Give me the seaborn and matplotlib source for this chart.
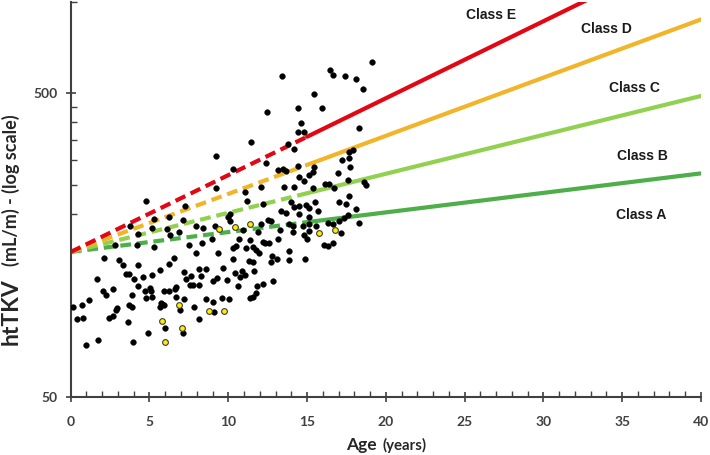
import numpy as np
import pandas as pd
import seaborn as sns
import matplotlib.pyplot as plt
from matplotlib.ticker import FixedLocator, NullFormatter

# patients (age in years, htTKV in mL/m)
age = [4.77, 7.23, 6.24, 5.29, 3.77, 7.13, 6.08, 5.13, 7.93, 8.39, 4.30, 6.28, 6.87,
       2.80, 4.18, 5.29, 7.49, 8.35, 7.93, 2.13, 3.08, 3.29, 4.30, 6.56, 6.24, 5.65,
       1.65, 3.54, 3.67, 4.01, 4.60, 5.19, 7.19, 8.12, 8.61, 7.30, 7.66, 8.29, 4.26,
       2.06, 2.70, 2.23, 3.92, 4.72, 5.02, 5.08, 5.90, 6.24, 6.60, 6.71, 7.59, 7.76,
       8.14, 4.77, 5.13, 6.66, 7.17, 8.61, 0.17, 0.70, 1.14, 2.95, 2.87, 3.71, 3.92,
       5.65, 5.82, 5.76, 5.92, 6.96, 7.80, 0.42, 0.80, 2.40, 2.70, 3.65, 5.97, 8.14,
       0.97, 1.75, 3.96, 4.91, 7.13,
       13.56, 14.20, 14.83, 16.16, 16.37, 16.73, 18.63, 18.73, 11.08, 12.09, 11.20,
       12.19, 13.99, 14.20, 14.47, 14.94, 15.15, 15.53, 17.00, 17.47, 17.68, 18.10,
       13.35, 13.67, 14.47, 15.15, 15.67, 10.08, 9.97, 17.57, 17.36, 17.05, 16.30,
       16.62, 18.31, 15.57, 15.15, 14.72, 14.09, 13.31, 13.88, 12.72, 12.51, 12.09,
       11.87, 10.92, 10.13, 9.13, 8.99, 10.67, 11.39, 12.19, 12.36, 12.57, 13.14,
       14.09, 14.83, 14.97, 15.15, 16.09, 16.30, 16.66, 17.15, 11.56, 10.29, 10.46,
       11.14, 11.77, 11.94, 9.34, 13.84, 12.78, 13.08, 13.88, 14.89, 10.29, 11.30,
       11.60, 12.72, 9.66, 10.42, 10.89, 10.72, 11.09, 11.62, 9.28, 9.94, 9.03,
       10.61, 11.81, 12.19, 12.82, 9.59, 10.04, 11.35, 11.56, 11.73, 9.03, 9.07,
       19.11, 16.47, 16.62, 17.42, 18.10, 18.52, 13.39, 15.46, 14.45, 15.95, 12.47,
       14.62, 14.41, 14.79, 18.27, 11.46, 13.77, 14.15, 9.24, 12.41, 10.29, 13.18,
       13.46, 13.67, 14.41, 15.46, 17.63, 17.93, 17.63, 17.19, 17.74, 15.35, 15.15,
       14.51, 16.94, 17.57, 9.24, 15.35]
httkv = [221, 213, 195, 192, 183, 191, 179, 180, 183, 180, 172, 171, 174,
         158, 158, 156, 158, 161, 149, 143, 141, 136, 136, 143, 137, 131,
         122, 127, 127, 122, 124, 126, 129, 132, 132, 122, 125, 125, 116,
         112, 113, 108, 108, 112, 114, 112, 112, 112, 113, 115, 117, 117,
         117, 106, 107, 107, 105, 105, 99, 100, 104, 98, 97, 100, 99,
         99, 101, 102, 100, 97, 99, 90, 91, 91, 92, 88, 84, 90,
         74, 77, 76, 81, 81,
         246, 246, 257, 251, 251, 243, 254, 249, 237, 246, 221,
         215, 219, 211, 212, 214, 210, 219, 219, 215, 230, 207,
         204, 201, 200, 196, 204, 200, 196, 198, 194, 190, 187,
         185, 187, 182, 186, 182, 182, 177, 186, 189, 191, 186,
         175, 177, 189, 182, 165, 166, 164, 162, 160, 161, 166,
         175, 170, 165, 176, 158, 157, 161, 173, 156, 155, 157,
         154, 152, 149, 149, 151, 145, 142, 141, 142, 142, 140,
         139, 139, 133, 128, 130, 124, 126, 130, 123, 121, 120,
         116, 116, 118, 120, 106, 105, 106, 107, 110, 103, 95,
         634, 595, 573, 568, 554, 514, 570, 496, 447, 447, 432,
         399, 371, 371, 383, 346, 341, 327, 310, 295, 282, 280,
         282, 277, 288, 286, 320, 325, 306, 301, 286, 275, 269,
         265, 272, 259, 244, 244]

# highlighted (yellow) patients
age_yellow = [6.85, 5.78, 7.05, 5.99, 8.75, 9.41, 10.44, 11.39, 15.73, 16.79, 9.72]
httkv_yellow = [100, 89, 84, 76, 96, 179, 181, 185, 173.5, 177, 96]

# class boundaries read at age 0, 15 and 40
line_age = [0, 15, 40]
boundary_ab = [150, 188, 272]
boundary_bc = [150, 234, 489]
boundary_cd = [150, 290, 873]
boundary_de = [150, 359, 1543]
boundary_colors = ["#4EAE4A", "#92D050", "#F2B428", "#E30613"]

class_names = ["Class E", "Class D", "Class C", "Class B", "Class A"]

sns.set_style("ticks")
plt.rcParams["font.family"] = ["Lato", "DejaVu Sans"]

fig = plt.figure(figsize=(7.1, 4.55), dpi=100)
ax = fig.add_axes([0.0996, 0.1275, 0.8877, 0.8692])

for vals, col in zip([boundary_ab, boundary_bc, boundary_cd, boundary_de], boundary_colors):
    sns.lineplot(x=line_age[:2], y=vals[:2], ax=ax, color=col, lw=3.0,
                 linestyle=(0, (2.6, 1.4)), solid_capstyle="butt", dash_capstyle="butt")
    sns.lineplot(x=line_age[1:], y=vals[1:], ax=ax, color=col, lw=3.0)

sns.scatterplot(x=age, y=httkv, ax=ax, color="black", s=17, linewidth=0.3,
                edgecolor="black", zorder=3)
sns.scatterplot(x=age_yellow, y=httkv_yellow, ax=ax, color="#FFEE00", s=17,
                linewidth=0.8, edgecolor="#3A3A3A", zorder=4)

ax.set_yscale("log")
ax.set_xlim(0, 40)
ax.set_ylim(50, 1000)

ax.set_xticks(range(0, 41, 5))
ax.set_xticks(range(0, 41), minor=True)
ax.yaxis.set_major_locator(FixedLocator([50, 500]))
ax.yaxis.set_minor_locator(FixedLocator([200, 250, 300, 350, 400, 450, 1000]))
ax.yaxis.set_minor_formatter(NullFormatter())
ax.set_yticklabels(["50", "500"])

ax.tick_params(axis="both", which="major", direction="inout", length=7, width=1.2,
               color="#404040", labelsize=10, labelcolor="#404040")
ax.tick_params(axis="both", which="minor", direction="in", length=4, width=1.0,
               color="#404040")
for lab in ax.get_xticklabels() + ax.get_yticklabels():
    lab.set_fontweight("bold")
ax.tick_params(axis="x", which="major", pad=10)
ax.tick_params(axis="y", which="major", pad=6)

for side in ["top", "right"]:
    ax.spines[side].set_visible(False)
for side in ["left", "bottom"]:
    ax.spines[side].set_color("#404040")
    ax.spines[side].set_linewidth(1.5)

ax.set_xlabel("")
ax.set_ylabel("")

# class labels
label_pos = [(26.7, 903), (34.0, 812), (35.8, 519), (36.3, 310), (36.2, 199)]
for name, (x, y) in zip(class_names, label_pos):
    ax.text(x, y, name, ha="center", va="center", fontsize=10, fontweight="bold",
            family=["Liberation Sans", "DejaVu Sans"], color="#1A1A1A")

# axis titles
fig.text(0.531, 0.011, "Age", ha="right", va="baseline", fontsize=12.5,
         fontweight="bold", color="#262626")
fig.text(0.539, 0.011, "(years)", ha="left", va="baseline", fontsize=10.8,
         fontweight="bold", color="#262626")
fig.text(0.0155, 0.316, "htTKV", ha="center", va="center", rotation=90,
         fontsize=16.5, fontweight="bold", color="#262626")
fig.text(0.0155, 0.582, "(mL/m) - (log scale)", ha="center", va="center", rotation=90,
         fontsize=13, fontweight="bold", color="#262626")

fig.savefig("out.png", dpi=100)
